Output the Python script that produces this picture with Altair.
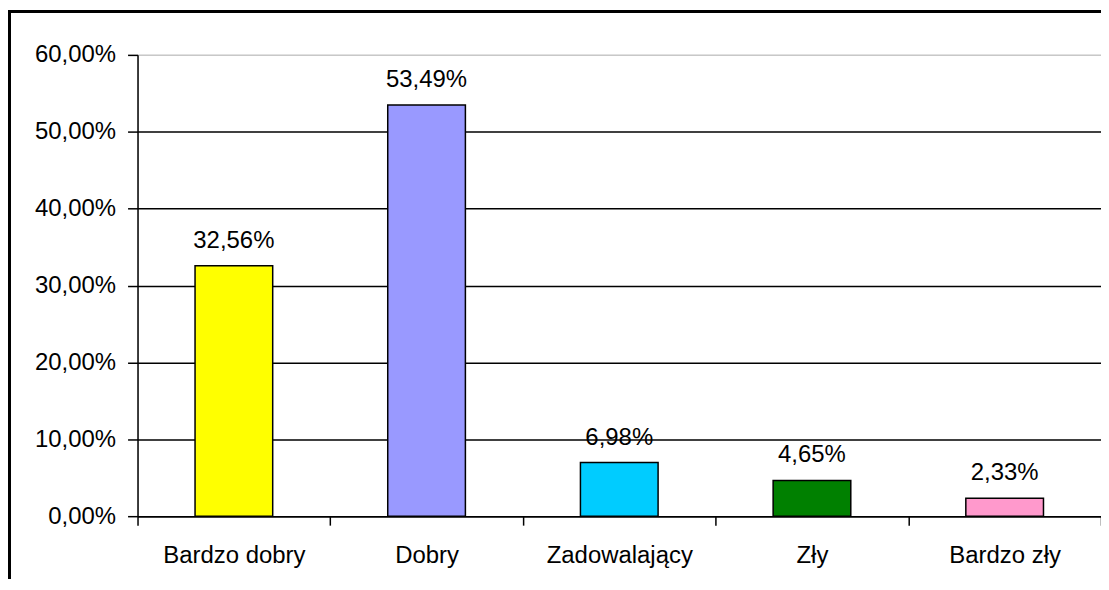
import altair as alt
import pandas as pd

categories = ["Bardzo dobry", "Dobry", "Zadowalający", "Zły", "Bardzo zły"]
values = [32.56, 53.49, 6.98, 4.65, 2.33]
colors = ["#FFFF00", "#9999FF", "#00CCFF", "#008000", "#FF99CC"]
y_ticks = [0, 10, 20, 30, 40, 50, 60]

df = pd.DataFrame({"kategoria": categories, "wartosc": values})

FONT = "Liberation Sans"
FS = 24
W, H = 967, 463

x_enc = alt.X(
    "kategoria:N",
    sort=categories,
    title=None,
    scale=alt.Scale(paddingInner=0, paddingOuter=0),
    axis=alt.Axis(
        labelAngle=0,
        labelFont=FONT,
        labelFontSize=FS,
        labelColor="black",
        labelPadding=18,
        tickBand="extent",
        ticks=True,
        tickColor="black",
        tickSize=9,
        tickWidth=1.5,
        domainColor="black",
        domainWidth=1.5,
        grid=False,
    ),
)

y_enc = alt.Y(
    "wartosc:Q",
    title=None,
    scale=alt.Scale(domain=[0, 60], nice=False),
    axis=alt.Axis(
        values=y_ticks,
        labelExpr="replace(format(datum.value, '.2f'), '.', ',') + '%'",
        labelFont=FONT,
        labelFontSize=FS,
        labelColor="black",
        labelPadding=12,
        tickColor="black",
        tickSize=10,
        tickWidth=1.5,
        domainColor="black",
        domainWidth=1.5,
        grid=True,
        gridColor={"condition": {"test": "datum.value === 60", "value": "#c8c8c8"}, "value": "black"},
        gridWidth=1.5,
    ),
)

bars = alt.Chart(df).mark_bar(
    width=alt.RelativeBandSize(0.403), stroke="black", strokeWidth=1.5
).encode(
    x=x_enc,
    y=y_enc,
    color=alt.Color("kategoria:N", sort=categories,
                    scale=alt.Scale(domain=categories, range=colors), legend=None),
)

labels = alt.Chart(df).transform_calculate(
    txt="replace(format(datum.wartosc, '.2f'), '.', ',') + '%'"
).mark_text(
    font=FONT, fontSize=FS, color="black", baseline="alphabetic", dy=-18
).encode(
    x=alt.X("kategoria:N", sort=categories),
    y=alt.Y("wartosc:Q"),
    text="txt:N",
)

border_left = alt.Chart(df).mark_rule(color="black", strokeWidth=2.5, clip=False).encode(
    x=alt.value(-128.5), y=alt.value(-44), y2=alt.value(H + 70)
)
border_top = alt.Chart(df).mark_rule(color="black", strokeWidth=2.5, clip=False).encode(
    x=alt.value(-130), x2=alt.value(W + 10), y=alt.value(-43.5)
)

chart = alt.layer(bars, labels, border_left, border_top).properties(
    width=W,
    height=H,
    padding={"left": 130, "top": 46, "right": 0, "bottom": 62},
    autosize=alt.AutoSizeParams(type="none"),
).configure_view(stroke=None).configure(background="white")

chart.save("out.html", embed_options={"renderer": "svg", "actions": False})
